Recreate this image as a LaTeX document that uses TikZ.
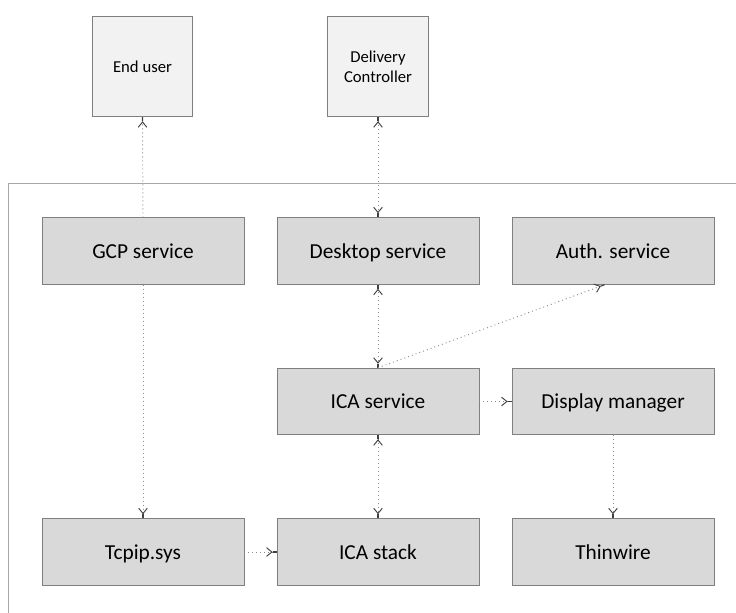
\documentclass[tikz,border=0pt]{standalone}
\usepackage{fontspec}
\setmainfont{Carlito}
\usetikzlibrary{arrows.meta}
\definecolor{boxgray}{HTML}{D9D9D9}
\definecolor{outgray}{HTML}{F2F2F2}
\definecolor{edgegray}{HTML}{7F7F7F}
\definecolor{framegray}{HTML}{A6A6A6}
\definecolor{dotgray}{HTML}{8C8C8C}
\definecolor{tipgray}{HTML}{404040}
\tikzset{
  svc/.style={draw=edgegray, fill=boxgray, line width=0.6pt, minimum width=151.5pt, minimum height=50pt, text depth=0pt, font=\fontsize{16}{18}\selectfont},
  ext/.style={draw=edgegray, fill=outgray, line width=0.6pt, minimum width=75.5pt, minimum height=75.5pt, align=center, font=\fontsize{12.5}{15}\selectfont},
  link/.style={draw=dotgray, line width=0.7pt, dash pattern=on 0.7pt off 2.3pt,
    -{Straight Barb[length=4pt,width=6.5pt,sep=0pt,color=tipgray]Square[length=3pt,width=0.6pt,sep=0pt,color=tipgray]}},
  duplex/.style={draw=dotgray, line width=0.7pt, dash pattern=on 0.7pt off 2.3pt,
    {Square[length=3pt,width=0.6pt,sep=0pt,color=tipgray]Straight Barb[length=4pt,width=6.5pt,sep=0pt,color=tipgray]}-{Straight Barb[length=4pt,width=6.5pt,sep=0pt,color=tipgray]Square[length=3pt,width=0.6pt,sep=0pt,color=tipgray]}}
}
\begin{document}
\begin{tikzpicture}[x=0.75pt,y=-0.75pt]
\useasboundingbox (0,0) rectangle (736,613);
% host frame
\draw[framegray, line width=0.6pt] (736,183) -- (8,183) -- (8,613);
% outside parties
\node[ext] (enduser) at (142.5,66.5) {End user};
\node[ext] (delivery) at (378,66.5) {Delivery\\Controller};
% services
\node[svc] (gcp) at (143,251) {GCP service};
\node[svc] (desktop) at (378,251) {Desktop service};
\node[svc] (auth) at (613,251) {Auth. service};
\node[svc] (icasvc) at (378,401.5) {ICA service};
\node[svc] (display) at (613,401.5) {Display manager};
\node[svc] (tcpip) at (143,552) {Tcpip.sys};
\node[svc] (icastack) at (378,552) {ICA stack};
\node[svc] (thinwire) at (613,552) {Thinwire};
% connectors
\draw[link] (gcp.north) -- (enduser.south);
\draw[duplex] (delivery.south) -- (desktop.north);
\draw[link] (gcp.south) -- (tcpip.north);
\draw[duplex] (desktop.south) -- (icasvc.north);
\draw[link] (icasvc.north) -- (auth.-104);
\draw[link] (icasvc.east) -- (display.west);
\draw[duplex] (icasvc.south) -- (icastack.north);
\draw[link] (display.south) -- (thinwire.north);
\draw[link] (tcpip.east) -- (icastack.west);
\end{tikzpicture}
\end{document}
